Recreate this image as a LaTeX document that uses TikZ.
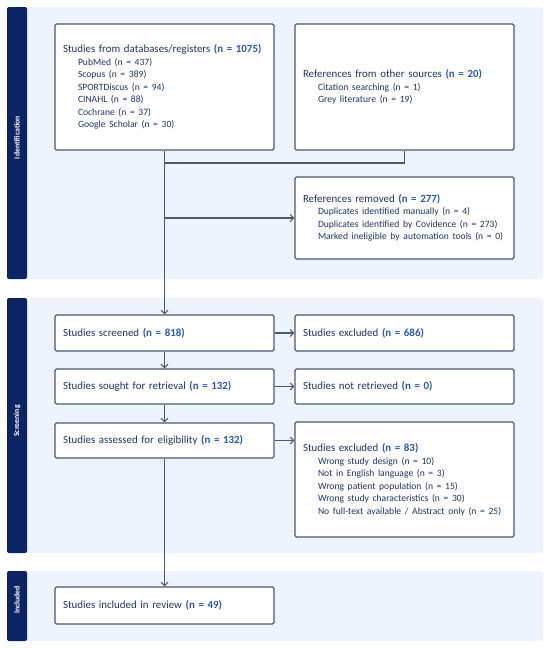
\documentclass[tikz,border=0pt]{standalone}
\usepackage{fontspec}
\setmainfont{Carlito}
\usetikzlibrary{arrows.meta}
\definecolor{panelblue}{HTML}{EEF4FD}
\definecolor{barnavy}{HTML}{0D2462}
\definecolor{boxline}{HTML}{4B5A74}
\definecolor{txtnavy}{HTML}{1F3563}
\definecolor{numblue}{HTML}{2B58B5}
\newcommand{\nval}[1]{\textcolor{numblue}{\textbf{(n = #1)}}}
\newcommand{\subline}[1]{\hspace*{15pt}{\fontsize{9.6}{12.5}\selectfont #1}}
\begin{document}
\begin{tikzpicture}[x=1pt, y=-1pt, line width=1.1pt, >={Straight Barb[length=3.5pt,width=7pt]},
main box/.style={rectangle,draw=boxline,fill=white,rounded corners=1.5pt,minimum width=219pt,text width=203pt,inner xsep=8pt,align=left,text=txtnavy,font=\fontsize{10.9}{12.5}\selectfont},
band label/.style={rotate=90,text=white,font=\fontsize{7.8}{9}\selectfont\bfseries}]
\useasboundingbox (0,0) rectangle (550,648);
%panels
\fill[panelblue, rounded corners=3pt] (7,7) rectangle (543,279);
\fill[panelblue, rounded corners=3pt] (7,298) rectangle (543,553);
\fill[panelblue, rounded corners=3pt] (7,571) rectangle (543,641);
\fill[barnavy, rounded corners=2pt] (7,7) rectangle (27,279);
\fill[barnavy, rounded corners=2pt] (7,298) rectangle (27,553);
\fill[barnavy, rounded corners=2pt] (7,571) rectangle (27,641);
\node[band label] (idlab) at (17,137.5) {Identification};
\node[band label] (scrlab) at (17,421) {Screening};
\node[band label] (inclab) at (17,600) {Included};
\begin{scope}[every node/.style={main box}]
\node (db) at (164.5,87) [minimum height=126pt] {Studies from databases/registers \nval{1075}\\
\subline{PubMed (n = 437)}\\
\subline{Scopus (n = 389)}\\
\subline{SPORTDiscus (n = 94)}\\
\subline{CINAHL (n = 88)}\\
\subline{Cochrane (n = 37)}\\
\subline{Google Scholar (n = 30)}};%databases
\node (other) at (404.5,87) [minimum height=126pt] {References from other sources \nval{20}\\
\subline{Citation searching (n = 1)}\\
\subline{Grey literature (n = 19)}};%other
\node (removed) at (404.5,218) [minimum height=82pt] {References removed \nval{277}\\
\subline{Duplicates identified manually (n = 4)}\\
\subline{Duplicates identified by Covidence (n = 273)}\\
\subline{Marked ineligible by automation tools (n = 0)}};%removed
\node (screened) at (164.5,333) [minimum height=36pt] {Studies screened \nval{818}};
\node (excl) at (404.5,333) [minimum height=36pt] {Studies excluded \nval{686}};
\node (sought) at (164.5,386.5) [minimum height=35pt] {Studies sought for retrieval \nval{132}};
\node (notret) at (404.5,386.5) [minimum height=35pt] {Studies not retrieved \nval{0}};
\node (assessed) at (164.5,440.5) [minimum height=35pt] {Studies assessed for eligibility \nval{132}};
\node (exclfull) at (404.5,479.5) [minimum height=115pt] {Studies excluded \nval{83}\\
\subline{Wrong study design (n = 10)}\\
\subline{Not in English language (n = 3)}\\
\subline{Wrong patient population (n = 15)}\\
\subline{Wrong study characteristics (n = 30)}\\
\subline{No full-text available / Abstract only (n = 25)}};%exclfull
\node (included) at (164.5,605.5) [minimum height=37pt] {Studies included in review \nval{49}};
\end{scope}
\begin{scope}[every path/.style={draw=boxline}]
\coordinate (merge) at (db.south |- 0,163);
\draw (other.south) |- (merge);
\draw[->] (db.south) -- (screened.north);
\draw[->] (db.south |- removed) -- (removed.west);
\draw[->] (screened) -- (excl);
\draw[->] (screened) -- (sought);
\draw[->] (sought) -- (notret);
\draw[->] (sought) -- (assessed);
\draw[->] (assessed.east) -- (exclfull.west |- assessed);
\draw[->] (assessed) -- (included);
\end{scope}
\end{tikzpicture}
\end{document}
